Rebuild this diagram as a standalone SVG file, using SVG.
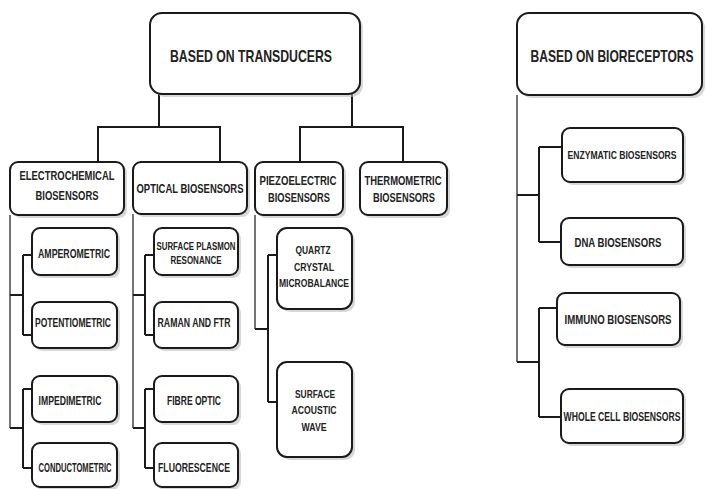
<svg xmlns="http://www.w3.org/2000/svg" width="707" height="489" viewBox="0 0 707 489">
<style>
.box{fill:#fff;stroke:#1a1a1a;stroke-width:2}
.sh{fill:#bdbdbd;opacity:0.6}
.t{font-family:"Liberation Sans",Arial,sans-serif;font-weight:bold;fill:#222;text-anchor:middle}
.big{font-size:16px}
.mid{font-size:13px}
.mid2{font-size:12px}
.sm{font-size:12px}
.xs{font-size:11px}
.c{fill:none;stroke:#1a1a1a;stroke-width:2}
.ct{fill:none;stroke:#1a1a1a;stroke-width:1.2}
</style>
<rect width="707" height="489" fill="#fff"/>
<g id="connectors">
<path class="c" d="M159,94V127M98,128V162M97,127H221M220,128V162"/>
<path class="c" d="M352,94V127M300,128V162M299,127H404M403,128V162"/>
<path class="ct" d="M10,215V428M133,214V428M255,215V329M517,95V362"/>
<path class="c" d="M10,295H23M23,255V335M23,255H32M23,335H32"/>
<path class="c" d="M10,428H23M23,389V468M23,389H32M23,468H32"/>
<path class="c" d="M133,295H145M145,255V335M145,255H154M145,335H154"/>
<path class="c" d="M133,428H145M145,389V468M145,389H154M145,468H154"/>
<path class="c" d="M255,329H268M268,255V402M268,255H277M268,402H277"/>
<path class="c" d="M517,195H539M539,147V242M539,147H562M539,242H561"/>
<path class="c" d="M517,362H539M539,308V417M539,308H557M539,417H561"/>
</g>
<g id="n-transducers">
<rect class="sh" x="153" y="16" width="210" height="81" rx="12"/>
<rect class="box" x="150" y="13" width="210" height="81" rx="12"/>
<text class="t big" transform="translate(251,62) scale(0.8,1)" textLength="202.5" lengthAdjust="spacingAndGlyphs">BASED ON TRANSDUCERS</text>
</g>
<g id="n-bioreceptors">
<rect class="sh" x="520" y="16" width="185" height="82" rx="12"/>
<rect class="box" x="517" y="13" width="185" height="82" rx="12"/>
<text class="t big" transform="translate(612,62) scale(0.8,1)" textLength="203.75" lengthAdjust="spacingAndGlyphs">BASED ON BIORECEPTORS</text>
</g>
<g id="n-electrochemical">
<rect class="sh" x="13" y="165" width="114" height="53" rx="8"/>
<rect class="box" x="10" y="162" width="114" height="53" rx="8"/>
<text class="t mid" transform="translate(67,180) scale(0.8,1)" textLength="118.75" lengthAdjust="spacingAndGlyphs">ELECTROCHEMICAL</text>
<text class="t mid" transform="translate(67,200) scale(0.8,1)" textLength="78.75" lengthAdjust="spacingAndGlyphs">BIOSENSORS</text>
</g>
<g id="n-optical">
<rect class="sh" x="136" y="165" width="114" height="52" rx="8"/>
<rect class="box" x="133" y="162" width="114" height="52" rx="8"/>
<text class="t mid" transform="translate(190,193) scale(0.8,1)" textLength="133.75" lengthAdjust="spacingAndGlyphs">OPTICAL BIOSENSORS</text>
</g>
<g id="n-piezo">
<rect class="sh" x="258" y="165" width="88" height="53" rx="8"/>
<rect class="box" x="255" y="162" width="88" height="53" rx="8"/>
<text class="t mid2" transform="translate(298,185) scale(0.8,1)" textLength="96.25" lengthAdjust="spacingAndGlyphs">PIEZOELECTRIC</text>
<text class="t mid2" transform="translate(299,202) scale(0.8,1)" textLength="77.5" lengthAdjust="spacingAndGlyphs">BIOSENSORS</text>
</g>
<g id="n-thermo">
<rect class="sh" x="363" y="165" width="87" height="53" rx="8"/>
<rect class="box" x="360" y="162" width="87" height="53" rx="8"/>
<text class="t mid2" transform="translate(403,185) scale(0.8,1)" textLength="96.25" lengthAdjust="spacingAndGlyphs">THERMOMETRIC</text>
<text class="t mid2" transform="translate(404,202) scale(0.8,1)" textLength="77.5" lengthAdjust="spacingAndGlyphs">BIOSENSORS</text>
</g>
<g id="n-amperometric">
<rect class="sh" x="35" y="231" width="85" height="47" rx="8"/>
<rect class="box" x="32" y="228" width="85" height="47" rx="8"/>
<text class="t sm" transform="translate(74,258) scale(0.8,1)" textLength="90" lengthAdjust="spacingAndGlyphs">AMPEROMETRIC</text>
</g>
<g id="n-potentiometric">
<rect class="sh" x="35" y="305" width="85" height="46" rx="8"/>
<rect class="box" x="32" y="302" width="85" height="46" rx="8"/>
<text class="t sm" transform="translate(73,327) scale(0.8,1)" textLength="95" lengthAdjust="spacingAndGlyphs">POTENTIOMETRIC</text>
</g>
<g id="n-impedimetric">
<rect class="sh" x="35" y="379" width="85" height="46" rx="8"/>
<rect class="box" x="32" y="376" width="85" height="46" rx="8"/>
<text class="t sm" transform="translate(70,405) scale(0.8,1)" textLength="78.75" lengthAdjust="spacingAndGlyphs">IMPEDIMETRIC</text>
</g>
<g id="n-conductometric">
<rect class="sh" x="35" y="446" width="85" height="44" rx="8"/>
<rect class="box" x="32" y="443" width="85" height="44" rx="8"/>
<text class="t sm" transform="translate(75,472) scale(0.8,1)" textLength="91.25" lengthAdjust="spacingAndGlyphs">CONDUCTOMETRIC</text>
</g>
<g id="n-spr">
<rect class="sh" x="157" y="231" width="84" height="47" rx="8"/>
<rect class="box" x="154" y="228" width="84" height="47" rx="8"/>
<text class="t xs" transform="translate(196,250) scale(0.8,1)" textLength="98.75" lengthAdjust="spacingAndGlyphs">SURFACE PLASMON</text>
<text class="t xs" transform="translate(196,264) scale(0.8,1)" textLength="63.75" lengthAdjust="spacingAndGlyphs">RESONANCE</text>
</g>
<g id="n-raman">
<rect class="sh" x="157" y="305" width="84" height="46" rx="8"/>
<rect class="box" x="154" y="302" width="84" height="46" rx="8"/>
<text class="t sm" transform="translate(194,327) scale(0.8,1)" textLength="91.25" lengthAdjust="spacingAndGlyphs">RAMAN AND FTR</text>
</g>
<g id="n-fibre">
<rect class="sh" x="157" y="379" width="84" height="46" rx="8"/>
<rect class="box" x="154" y="376" width="84" height="46" rx="8"/>
<text class="t sm" transform="translate(194,405) scale(0.8,1)" textLength="67.5" lengthAdjust="spacingAndGlyphs">FIBRE OPTIC</text>
</g>
<g id="n-fluorescence">
<rect class="sh" x="157" y="446" width="84" height="44" rx="8"/>
<rect class="box" x="154" y="443" width="84" height="44" rx="8"/>
<text class="t sm" transform="translate(194,472) scale(0.8,1)" textLength="90" lengthAdjust="spacingAndGlyphs">FLUORESCENCE</text>
</g>
<g id="n-quartz">
<rect class="sh" x="280" y="231" width="75" height="81" rx="10"/>
<rect class="box" x="277" y="228" width="75" height="81" rx="10"/>
<text class="t xs" transform="translate(313,254) scale(0.8,1)" textLength="43.75" lengthAdjust="spacingAndGlyphs">QUARTZ</text>
<text class="t xs" transform="translate(314,271) scale(0.8,1)" textLength="50" lengthAdjust="spacingAndGlyphs">CRYSTAL</text>
<text class="t xs" transform="translate(314,287) scale(0.8,1)" textLength="87.5" lengthAdjust="spacingAndGlyphs">MICROBALANCE</text>
</g>
<g id="n-saw">
<rect class="sh" x="280" y="365" width="75" height="95" rx="10"/>
<rect class="box" x="277" y="362" width="75" height="95" rx="10"/>
<text class="t xs" transform="translate(315,398) scale(0.8,1)" textLength="50" lengthAdjust="spacingAndGlyphs">SURFACE</text>
<text class="t xs" transform="translate(314,414) scale(0.8,1)" textLength="56.25" lengthAdjust="spacingAndGlyphs">ACOUSTIC</text>
<text class="t xs" transform="translate(314,431) scale(0.8,1)" textLength="31.25" lengthAdjust="spacingAndGlyphs">WAVE</text>
</g>
<g id="n-enzymatic">
<rect class="sh" x="565" y="131" width="121" height="54" rx="8"/>
<rect class="box" x="562" y="128" width="121" height="54" rx="8"/>
<text class="t xs" transform="translate(622,159) scale(0.8,1)" textLength="136.25" lengthAdjust="spacingAndGlyphs">ENZYMATIC BIOSENSORS</text>
</g>
<g id="n-dna">
<rect class="sh" x="564" y="221" width="122" height="47" rx="8"/>
<rect class="box" x="561" y="218" width="122" height="47" rx="8"/>
<text class="t sm" transform="translate(618,247) scale(0.8,1)" textLength="108.75" lengthAdjust="spacingAndGlyphs">DNA BIOSENSORS</text>
</g>
<g id="n-immuno">
<rect class="sh" x="560" y="296" width="123" height="52" rx="8"/>
<rect class="box" x="557" y="293" width="123" height="52" rx="8"/>
<text class="t sm" transform="translate(618,324) scale(0.8,1)" textLength="133.75" lengthAdjust="spacingAndGlyphs">IMMUNO BIOSENSORS</text>
</g>
<g id="n-wholecell">
<rect class="sh" x="564" y="392" width="122" height="54" rx="8"/>
<rect class="box" x="561" y="389" width="122" height="54" rx="8"/>
<text class="t sm" transform="translate(622,421) scale(0.8,1)" textLength="146.25" lengthAdjust="spacingAndGlyphs">WHOLE CELL BIOSENSORS</text>
</g>
</svg>
